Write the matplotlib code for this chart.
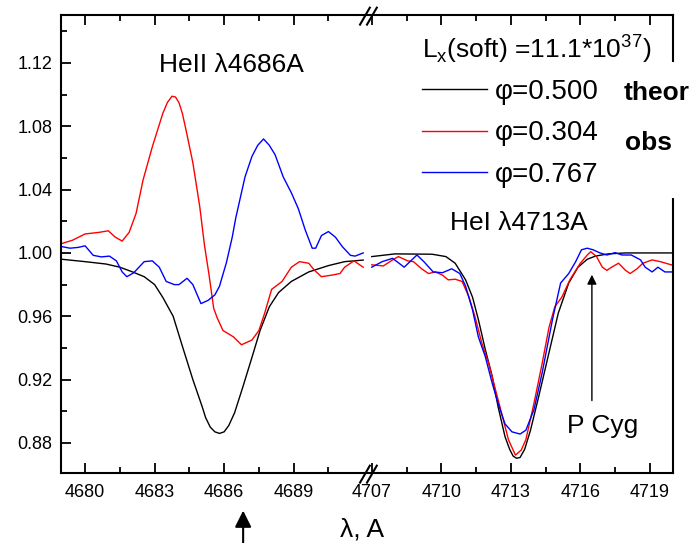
import numpy as np
import matplotlib
matplotlib.use('Agg')
import matplotlib.pyplot as plt
from matplotlib.lines import Line2D
from matplotlib.patches import Rectangle

plt.rcParams['font.family'] = ['Liberation Sans', 'DejaVu Sans']

# broken x axis: right part (HeI 4713) is shifted left by this much
OFFSET = 14.63

# HeII 4686 region
heii_theor_wl = [4679.0, 4680.0, 4680.9, 4681.5, 4682.05, 4682.55, 4683.0, 4683.35, 4683.8, 4684.2,
                 4684.65, 4685.05, 4685.2, 4685.4, 4685.6, 4685.8, 4686.0, 4686.2, 4686.45, 4686.8,
                 4687.2, 4687.55, 4687.95, 4688.35, 4688.9, 4689.65, 4690.5, 4691.2, 4692.0]
heii_theor = [0.996, 0.9945, 0.993, 0.991, 0.988, 0.985, 0.980, 0.972, 0.960, 0.941,
              0.920, 0.903, 0.896, 0.890, 0.887, 0.886, 0.887, 0.891, 0.899, 0.915,
              0.934, 0.951, 0.966, 0.975, 0.982, 0.988, 0.992, 0.9945, 0.9955]

heii_red_wl = [4679.0, 4679.45, 4680.0, 4680.6, 4681.0, 4681.3, 4681.6, 4681.9, 4682.2, 4682.5,
               4682.9, 4683.35, 4683.55, 4683.75, 4683.9, 4684.05, 4684.2, 4684.35, 4684.65, 4684.95,
               4685.15, 4685.35, 4685.55, 4685.7, 4685.95, 4686.4, 4686.75, 4687.2, 4687.5, 4687.75,
               4688.05, 4688.5, 4688.9, 4689.25, 4689.65, 4689.9, 4690.2, 4690.65, 4691.0, 4691.2,
               4691.6, 4692.0]
heii_red = [1.006, 1.008, 1.012, 1.013, 1.014, 1.010, 1.0075, 1.013, 1.025, 1.046,
            1.067, 1.088, 1.095, 1.099, 1.0985, 1.095, 1.088, 1.078, 1.057, 1.029,
            1.005, 0.986, 0.965, 0.959, 0.951, 0.947, 0.942, 0.945, 0.951, 0.962,
            0.977, 0.982, 0.991, 0.9945, 0.9935, 0.989, 0.985, 0.986, 0.987, 0.991,
            0.995, 0.991]

heii_blue_wl = [4679.0, 4679.35, 4679.7, 4680.0, 4680.35, 4680.7, 4681.05, 4681.35, 4681.6, 4681.8,
                4682.1, 4682.55, 4682.9, 4683.2, 4683.5, 4683.85, 4684.05, 4684.4, 4684.65, 4685.0,
                4685.3, 4685.6, 4685.8, 4686.1, 4686.35, 4686.5, 4686.9, 4687.2, 4687.45, 4687.7,
                4687.95, 4688.2, 4688.55, 4688.9, 4689.2, 4689.5, 4689.8, 4689.95, 4690.2, 4690.5,
                4690.8, 4691.1, 4691.45, 4691.65, 4692.0]
heii_blue = [1.004, 1.003, 1.0035, 1.0045, 0.9985, 0.9975, 0.998, 0.995, 0.988, 0.985,
             0.9875, 0.9945, 0.995, 0.991, 0.982, 0.980, 0.980, 0.984, 0.980, 0.968,
             0.970, 0.9735, 0.979, 0.994, 1.010, 1.022, 1.048, 1.061, 1.068, 1.072,
             1.068, 1.062, 1.048, 1.038, 1.028, 1.0145, 1.003, 1.003, 1.011, 1.0135,
             1.010, 1.004, 0.9985, 0.998, 1.000]

# HeI 4713 region
hei_theor_wl = [4707.0, 4708.0, 4709.6, 4710.2, 4710.6, 4711.05, 4711.35, 4711.6, 4711.9, 4712.2,
                4712.45, 4712.75, 4712.95, 4713.1, 4713.25, 4713.4, 4713.6, 4713.85, 4714.2, 4714.6,
                4715.05, 4715.5, 4715.9, 4716.3, 4716.65, 4717.2, 4717.95, 4720.0]
hei_theor = [0.9977, 0.9994, 0.9992, 0.9977, 0.9935, 0.983, 0.972, 0.958, 0.939, 0.922,
             0.903, 0.884, 0.876, 0.8717, 0.8703, 0.8708, 0.876, 0.888, 0.909, 0.934,
             0.962, 0.981, 0.991, 0.996, 0.998, 0.9994, 1.000, 1.000]

hei_red_wl = [4707.0, 4707.5, 4707.9, 4708.15, 4708.55, 4708.8, 4709.15, 4709.45, 4709.75, 4710.05,
              4710.3, 4710.6, 4710.9, 4711.2, 4711.45, 4711.75, 4712.05, 4712.35, 4712.6, 4712.9,
              4713.2, 4713.45, 4713.65, 4714.0, 4714.35, 4714.65, 4714.9, 4715.2, 4715.55, 4716.0,
              4716.3, 4716.45, 4716.7, 4716.95, 4717.15, 4717.35, 4717.65, 4717.95, 4718.15, 4718.45,
              4718.7, 4719.1, 4719.45, 4719.95]
hei_red = [0.9925, 0.9918, 0.9956, 0.9977, 0.995, 0.9945, 0.990, 0.987, 0.988, 0.986,
           0.983, 0.9834, 0.982, 0.972, 0.960, 0.943, 0.930, 0.913, 0.899, 0.882,
           0.8723, 0.8755, 0.882, 0.905, 0.930, 0.953, 0.966, 0.972, 0.983, 0.9935,
           0.9987, 1.0008, 0.9977, 0.991, 0.989, 0.991, 0.9935, 0.989, 0.987, 0.990,
           0.9935, 0.9956, 0.9945, 0.9924]

hei_blue_wl = [4707.0, 4707.45, 4707.9, 4708.4, 4708.65, 4708.95, 4709.25, 4709.65, 4710.05, 4710.45,
               4710.8, 4711.05, 4711.35, 4711.6, 4711.9, 4712.2, 4712.45, 4712.75, 4713.05, 4713.4,
               4713.65, 4714.0, 4714.35, 4714.8, 4715.15, 4715.5, 4715.8, 4716.05, 4716.3, 4716.55,
               4716.85, 4717.15, 4717.5, 4717.8, 4718.2, 4718.6, 4718.8, 4719.1, 4719.35, 4719.65,
               4719.95]
hei_blue = [0.991, 0.9945, 0.9966, 0.991, 0.9945, 0.9987, 0.9945, 0.988, 0.9875, 0.990,
            0.987, 0.979, 0.964, 0.947, 0.9345, 0.9176, 0.905, 0.892, 0.887, 0.8856,
            0.888, 0.901, 0.924, 0.958, 0.981, 0.987, 0.9945, 1.002, 1.003, 1.002,
            1.000, 0.9987, 1.0002, 0.9987, 0.9987, 0.9956, 0.991, 0.988, 0.991, 0.988,
            0.988]

xticks_left = [4680, 4683, 4686, 4689]
xticks_right = [4707, 4710, 4713, 4716, 4719]
phases = ['0.500', '0.304', '0.767']


def shift(wl):
    return np.array(wl) - OFFSET


fig = plt.figure(figsize=(6.93, 5.43), dpi=100)
ax = fig.add_axes([61 / 693, 1 - 473 / 543, 612 / 693, 458 / 543])

ax.plot(heii_theor_wl, heii_theor, color='k', lw=1.0)
ax.plot(heii_red_wl, heii_red, color='red', lw=1.0)
ax.plot(heii_blue_wl, heii_blue, color='blue', lw=1.0)
ax.plot(shift(hei_theor_wl), hei_theor, color='k', lw=1.0)
ax.plot(shift(hei_red_wl), hei_red, color='red', lw=1.0)
ax.plot(shift(hei_blue_wl), hei_blue, color='blue', lw=1.0)

ax.set_xlim(4678.96, 4720.0 - OFFSET)
ax.set_ylim(0.861, 1.1503)

major = list(xticks_left) + list(shift(xticks_right))
ax.set_xticks(major)
ax.set_xticklabels([str(t) for t in xticks_left + xticks_right])
minor = [t + 1.5 for t in xticks_left] + list(shift([t + 1.5 for t in xticks_right[:-1]]))
ax.set_xticks(minor, minor=True)
ax.set_yticks(np.arange(0.88, 1.121, 0.04))
ax.set_yticks(np.arange(0.90, 1.15, 0.04), minor=True)
ax.yaxis.set_major_formatter(plt.FormatStrFormatter('%.2f'))

ax.tick_params(axis='x', which='both', direction='in', top=True, labelsize=13, pad=8)
ax.tick_params(axis='y', which='both', direction='in', right=False, labelsize=13, pad=6)
ax.tick_params(which='major', length=7, width=1.3)
ax.tick_params(which='minor', length=4, width=1.3)
for s in ax.spines.values():
    s.set_linewidth(1.5)

# break marks
for y0 in (0, 1):
    for x0 in (0.4886, 0.5):
        ax.plot([x0, x0 + 0.016], [y0 - 0.021, y0 + 0.016], color='k', lw=1.5,
                transform=ax.transAxes, clip_on=False)

ax.set_xlabel('λ, A', fontsize=19)
ax.xaxis.set_label_coords((362 - 61) / 612, -(530 - 473) / 458)
ax.xaxis.label.set_va('center')

ax.text(4683.2, 1.114, 'HeII λ4686A', fontsize=19)
ax.text(4710.39 - OFFSET, 1.0145, 'HeI λ4713A', fontsize=19)

# P Cyg marker
ax.annotate('', xy=(4716.5 - OFFSET, 0.988), xytext=(4716.5 - OFFSET, 0.905),
            arrowprops=dict(arrowstyle='-|>', color='k', lw=1.0, mutation_scale=14))
ax.text(4716.95 - OFFSET, 0.891, 'P Cyg', fontsize=19, ha='center', va='center')

# arrow below the axis marking HeII rest wavelength
ax.annotate('', xy=(4686.82, -0.076), xytext=(4686.82, -0.2),
            xycoords=('data', 'axes fraction'), textcoords=('data', 'axes fraction'),
            arrowprops=dict(arrowstyle='-|>', color='k', lw=1.5, mutation_scale=25))

# white block behind the legend, hiding part of the right spine
ax.add_patch(Rectangle((410 / 693, 1 - 198 / 543), 283 / 693, 136 / 543, transform=fig.transFigure,
                       facecolor='white', edgecolor='none', zorder=4, clip_on=False))

handles = [Line2D([], [], color=c, lw=1.0) for c in ('k', 'red', 'blue')]
leg = ax.legend(handles, ['φ=' + p for p in phases], loc='upper left',
                bbox_to_anchor=(410 / 693, 1 - 67 / 543), bbox_transform=fig.transFigure,
                fontsize=20, frameon=False, borderpad=0.43, borderaxespad=0,
                handlelength=2.34, handletextpad=0.3, labelspacing=0.55)

fig.text(422 / 693, 1 - 58 / 543, r'L$_{\mathregular{x}}$(soft) =11.1*10$^{\mathregular{37}}$)',
         fontsize=19, va='baseline')
fig.text(624 / 693, 1 - 100 / 543, 'theor', fontsize=19, fontweight='bold', va='baseline')
fig.text(625 / 693, 1 - 150 / 543, 'obs', fontsize=19, fontweight='bold', va='baseline')

fig.savefig('out.png', dpi=100)
